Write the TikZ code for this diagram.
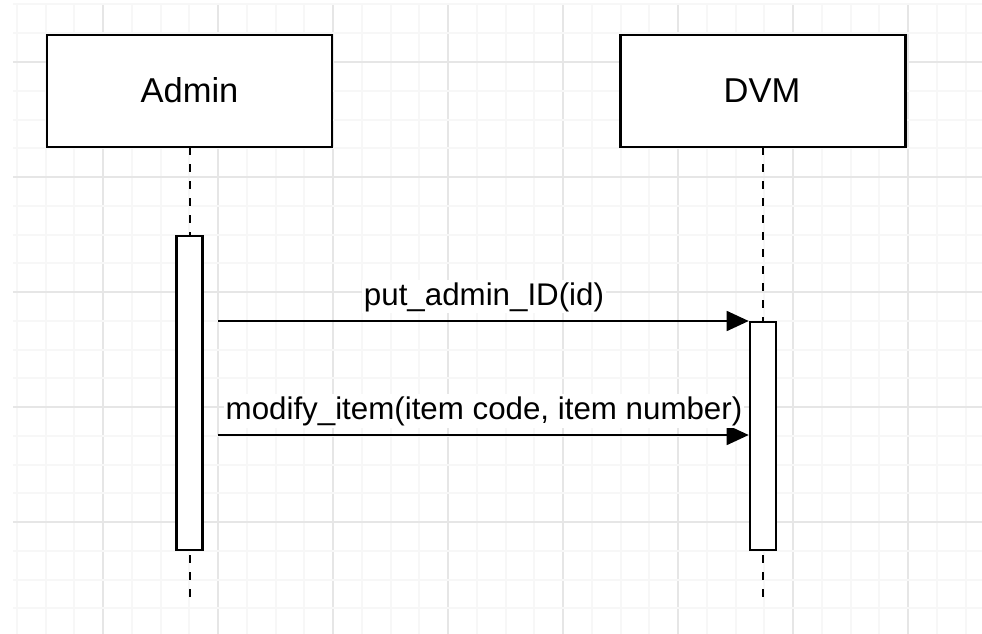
\documentclass[tikz,border=0pt]{standalone}
\usepackage{fontspec}
\setmainfont{Liberation Sans}
\usetikzlibrary{arrows.meta}
\definecolor{gridmajor}{HTML}{E6E6E6}
\definecolor{gridminor}{HTML}{F7F7F7}
\tikzset{
  actor/.style={draw=black, line width=2.6pt, fill=white, minimum width=285pt, minimum height=112pt, inner sep=0pt, outer sep=0pt},
  actortext/.style={anchor=base, inner sep=0pt, font=\fontsize{34.5}{40}\selectfont},
  actbar/.style={draw=black, line width=2.6pt, fill=white, minimum width=26pt, inner sep=0pt, outer sep=1.3pt},
  lifeline/.style={line width=2pt, dash pattern=on 8pt off 9pt},
  msg/.style={line width=1.7pt, -{Triangle[length=22pt, width=20pt]}},
  msgtext/.style={anchor=base, fill=white, inner sep=2pt, font=\fontsize{31.3}{36}\selectfont},
}
\begin{document}
\begin{tikzpicture}[x=1pt, y=-1pt]
\useasboundingbox (0,0) rectangle (982,634);
% grid
\begin{scope}
\clip (13,4) rectangle (982,634);
\foreach \k in {0,...,34} {
  \pgfmathtruncatemacro{\m}{mod(\k+1,4)}
  \ifnum\m=0
    \draw[gridmajor, line width=2.2pt] ({16.75+\k*28.75},0) -- ({16.75+\k*28.75},640);
  \else
    \draw[gridminor, line width=2pt] ({16.75+\k*28.75},0) -- ({16.75+\k*28.75},640);
  \fi
}
\foreach \k in {0,...,22} {
  \pgfmathtruncatemacro{\m}{mod(\k+2,4)}
  \ifnum\m=0
    \draw[gridmajor, line width=2.2pt] (0,{4.5+\k*28.75}) -- (990,{4.5+\k*28.75});
  \else
    \draw[gridminor, line width=2pt] (0,{4.5+\k*28.75}) -- (990,{4.5+\k*28.75});
  \fi
}
\end{scope}
% actor boxes
\node[actor] (admin) at (189.5,91) {};
\node[actor] (dvm) at (763,91) {};
\node[actortext] (admintext) at (189.5,102) {Admin};
\node[actortext] (dvmtext) at (762,102) {DVM};
% lifelines
\coordinate (adminend) at (189.5,605);
\coordinate (dvmend) at (763,605);
\draw[lifeline] (admin.south) -- (adminend);
\draw[lifeline] (dvm.south) -- (dvmend);
% activation bars
\node[actbar, minimum height=314pt] (adminbar) at (189.2,392.8) {};
\node[actbar, minimum height=228pt] (dvmbar) at (763,435.8) {};
% messages
\coordinate (m1start) at (218,321);
\coordinate (m2start) at (218,435);
\draw[msg] (m1start) -- (m1start -| dvmbar.west);
\draw[msg] (m2start) -- (m2start -| dvmbar.west);
\node[msgtext] (m1label) at (484,305) {put\_admin\_ID(id)};
\node[msgtext] (m2label) at (484,419) {modify\_item(item code, item number)};
\end{tikzpicture}
\end{document}
